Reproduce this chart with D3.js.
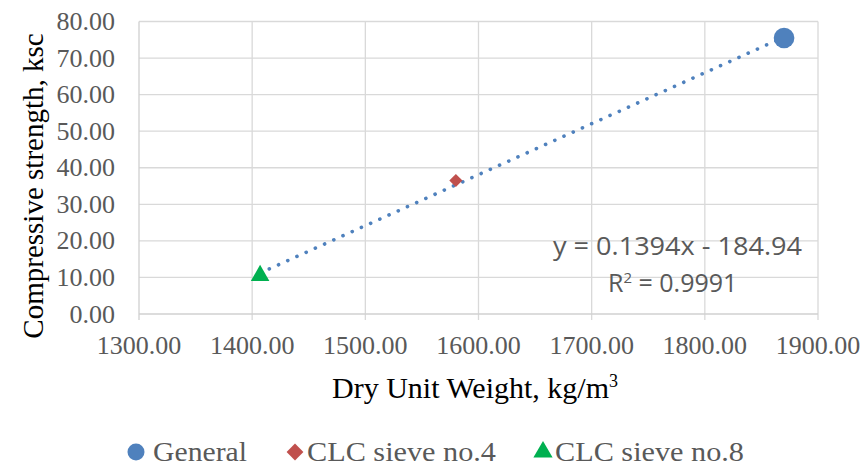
<!DOCTYPE html>
<html>
<head>
<meta charset="utf-8">
<script src="https://cdn.jsdelivr.net/npm/d3@7"></script>
<style>
  body { margin: 0; background: #fff; }
</style>
</head>
<body>
<div id="chart"></div>
<script>
const WIDTH = 866;
const HEIGHT = 468;
const SERIF = '"Liberation Serif", "Times New Roman", serif';
const SANS = '"Open Sans", "Liberation Sans", sans-serif';

// data
const series = ['General', 'CLC sieve no.4', 'CLC sieve no.8'];
const dryWeight = [1870, 1580, 1407];
const strength = [75.5, 36.5, 10.5];
const colors = ['#4f81bd', '#c0504d', '#00b050'];
const xTicks = [1300, 1400, 1500, 1600, 1700, 1800, 1900];
const yTicks = [0, 10, 20, 30, 40, 50, 60, 70, 80];
const slope = 0.1394, intercept = -184.94;

const svg = d3.select('#chart').append('svg')
    .attr('width', WIDTH)
    .attr('height', HEIGHT);

const x = d3.scaleLinear().domain([1300, 1900]).range([139, 818]);
const y = d3.scaleLinear().domain([0, 80]).range([314, 21.5]);

// grid
svg.append('g').selectAll('line')
    .data(xTicks.slice(1))
    .enter().append('line')
    .attr('x1', d => x(d)).attr('x2', d => x(d))
    .attr('y1', y(80)).attr('y2', y(0) + 6)
    .attr('stroke', '#d9d9d9').attr('stroke-width', 1.3);

svg.append('g').selectAll('line')
    .data(yTicks.slice(1))
    .enter().append('line')
    .attr('x1', x(1300)).attr('x2', x(1900))
    .attr('y1', d => y(d)).attr('y2', d => y(d))
    .attr('stroke', '#d9d9d9').attr('stroke-width', 1.3);

// axis lines
svg.append('line')
    .attr('x1', x(1300)).attr('x2', x(1300))
    .attr('y1', y(80)).attr('y2', y(0) + 6)
    .attr('stroke', '#d0d0d0').attr('stroke-width', 1.3);
svg.append('line')
    .attr('x1', x(1300)).attr('x2', x(1900))
    .attr('y1', y(0)).attr('y2', y(0))
    .attr('stroke', '#d0d0d0').attr('stroke-width', 1.3);

// tick labels
svg.append('g').selectAll('text')
    .data(yTicks)
    .enter().append('text')
    .attr('x', 115)
    .attr('y', d => y(d) + 8.5)
    .attr('text-anchor', 'end')
    .style('font-family', SERIF)
    .style('font-size', '26px')
    .attr('fill', '#595959')
    .text(d => d.toFixed(2));

svg.append('g').selectAll('text')
    .data(xTicks)
    .enter().append('text')
    .attr('x', d => x(d))
    .attr('y', 354)
    .attr('text-anchor', 'middle')
    .style('font-family', SERIF)
    .style('font-size', '26px')
    .attr('fill', '#595959')
    .text(d => d.toFixed(2));

// axis titles
svg.append('text')
    .attr('transform', 'translate(43,186) rotate(-90)')
    .attr('text-anchor', 'middle')
    .style('font-family', SERIF)
    .style('font-size', '29px')
    .attr('fill', '#000')
    .text('Compressive strength, ksc');

const xt = svg.append('text')
    .attr('x', 332)
    .attr('y', 398)
    .style('font-family', SERIF)
    .style('font-size', '30px')
    .attr('fill', '#000');
xt.append('tspan').text('Dry Unit Weight, kg/m');
xt.append('tspan').attr('dy', -11).style('font-size', '18px').text('3');

// trendline
const x0 = d3.min(dryWeight), x1 = d3.max(dryWeight);
svg.append('line')
    .attr('x1', x(x0)).attr('y1', y(slope * x0 + intercept))
    .attr('x2', x(x1)).attr('y2', y(slope * x1 + intercept))
    .attr('stroke', '#4f81bd')
    .attr('stroke-width', 3.6)
    .attr('stroke-linecap', 'round')
    .attr('stroke-dasharray', '0.1 10');

// markers
const symbols = [d3.symbolCircle, d3.symbolDiamond2, d3.symbolTriangle];
const sizes = [335, 110, 150];
svg.append('g').selectAll('path')
    .data(series)
    .enter().append('path')
    .attr('transform', (d, i) => `translate(${x(dryWeight[i])},${y(strength[i])})`)
    .attr('d', (d, i) => d3.symbol().type(symbols[i]).size(sizes[i])())
    .attr('fill', (d, i) => colors[i]);

// equation
const eq = svg.append('g')
    .style('font-family', SANS)
    .style('font-size', '25px')
    .attr('fill', '#595959');
eq.append('text')
    .attr('x', 553).attr('y', 255)
    .attr('textLength', 249)
    .attr('lengthAdjust', 'spacingAndGlyphs')
    .text('y = 0.1394x - 184.94');
const r2 = eq.append('text')
    .attr('x', 608).attr('y', 292);
r2.append('tspan').text('R');
r2.append('tspan').attr('dy', -9).style('font-size', '15px').text('2');
r2.append('tspan').attr('dy', 9).text(' = 0.9991');

// legend
const legendX = [136, 295, 543];
const legendSizes = [227, 180, 160];
const legendWidths = [94, 189, 189];
const legend = svg.append('g').selectAll('g')
    .data(series)
    .enter().append('g')
    .attr('transform', (d, i) => `translate(${legendX[i]},452)`);
legend.append('path')
    .attr('d', (d, i) => d3.symbol().type(symbols[i]).size(legendSizes[i])())
    .attr('fill', (d, i) => colors[i]);
legend.append('text')
    .attr('x', (d, i) => i === 0 ? 17 : 12)
    .attr('y', 9)
    .attr('textLength', (d, i) => legendWidths[i])
    .attr('lengthAdjust', 'spacingAndGlyphs')
    .style('font-family', SERIF)
    .style('font-size', '27px')
    .attr('fill', '#595959')
    .text(d => d);
</script>
</body>
</html>
